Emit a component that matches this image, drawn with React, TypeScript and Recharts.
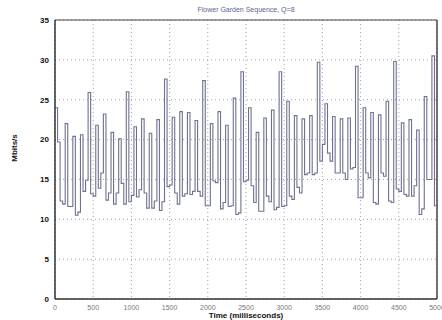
import { LineChart, Line, XAxis, YAxis, CartesianGrid, ReferenceLine } from 'recharts';

// bit rate per frame (30 frames/s)
const mbits = [
  24.0, 19.7, 12.3, 11.9,
  22.0, 11.6, 11.6,
  20.4, 10.5, 10.9,
  20.6, 13.5, 14.9,
  25.9, 13.2, 12.9,
  21.8, 13.9, 15.8,
  23.2, 12.4, 13.3,
  20.9, 11.9, 13.3,
  20.1, 14.5, 11.9,
  26.0, 12.2, 13.0,
  21.6, 12.8, 13.7,
  22.6, 13.3, 11.4,
  20.8, 11.4, 12.3,
  22.5, 11.1, 12.2,
  27.6, 14.1, 14.3,
  22.8, 13.3, 11.9,
  23.5, 12.9, 13.2,
  23.4, 13.1, 13.5,
  22.4, 13.5, 12.9,
  27.4, 11.7, 11.7,
  22.0, 14.8, 14.6,
  23.5, 11.3, 12.1,
  21.8, 11.6, 11.7,
  25.2, 10.6, 10.8,
  28.5, 14.7, 14.9,
  24.0, 14.2, 12.1,
  20.9, 11.0, 11.0,
  22.7, 12.9, 12.2,
  23.7, 11.2, 11.5,
  28.5, 11.6, 11.7,
  24.8, 12.9, 12.5,
  23.0, 14.0, 13.3,
  22.6, 15.6, 15.8,
  23.0, 15.6, 15.8,
  29.7, 17.3, 19.4,
  24.5, 18.3, 17.3,
  22.9, 15.8, 15.8,
  22.6, 15.8, 15.0,
  22.7, 16.3, 16.5,
  29.2, 12.7, 12.7,
  24.0, 15.8, 15.2,
  23.4, 12.1, 11.9,
  23.1, 15.8, 15.4,
  24.8, 12.3, 12.1,
  29.8, 13.8, 13.5,
  22.1, 13.1, 12.9,
  22.5, 12.9, 14.2,
  21.2, 10.6, 11.3,
  25.4, 15.0, 15.0,
  30.5, 11.7,
];

const xTicks = [0, 500, 1000, 1500, 2000, 2500, 3000, 3500, 4000, 4500, 5000];
const yTicks = [0, 5, 10, 15, 20, 25, 30, 35];

const FRAME_MS = 1000 / 30;

const data = [
  ...mbits.map((v, i) => ({ t: i * FRAME_MS, v })),
  { t: 5000, v: mbits[mbits.length - 1] },
];

const font = '"Liberation Sans", Arial, sans-serif';

export default function App() {
  return (
    <div style={{ position: 'absolute', left: 0, top: 0, width: 442, height: 320, background: '#fff', fontFamily: font }}>
      <div style={{ position: 'absolute', left: 0, width: 492, top: 6, textAlign: 'center', fontSize: 7, color: '#5b6790' }}>
        Flower Garden Sequence, Q=8
      </div>
      <div
        style={{
          position: 'absolute', left: 14, top: 148, fontSize: 8, fontWeight: 'bold',
          transform: 'translate(-50%, -50%) rotate(-90deg)', whiteSpace: 'nowrap', color: '#111',
        }}
      >
        Mbits/s
      </div>
      <div style={{ position: 'absolute', left: 0, width: 492, top: 311, textAlign: 'center', fontSize: 8, fontWeight: 'bold', color: '#111' }}>
        Time (milliseconds)
      </div>
      <LineChart width={442} height={320} data={data} margin={{ top: 20, right: 5, bottom: 0, left: 15 }}>
        <CartesianGrid stroke="#9aa0b8" strokeDasharray="1 3" />
        <XAxis
          dataKey="t"
          type="number"
          domain={[0, 5000]}
          ticks={xTicks}
          height={21}
          tickSize={0}
          tickMargin={6}
          stroke="#333"
          strokeWidth={1.5}
          tick={{ fontSize: 7, fill: '#777', fontFamily: font }}
          interval={0}
        />
        <YAxis
          type="number"
          domain={[0, 35]}
          ticks={yTicks}
          width={40}
          tickSize={0}
          tickMargin={6}
          stroke="#333"
          strokeWidth={1.5}
          tick={{ fontSize: 8, fill: '#111', fontWeight: 'bold', fontFamily: font }}
          interval={0}
        />
        <ReferenceLine y={35} stroke="#444" strokeWidth={1} />
        <ReferenceLine x={5000} stroke="#444" strokeWidth={1.5} />
        <Line
          type="stepAfter"
          dataKey="v"
          stroke="#6d7290"
          strokeWidth={1.1}
          dot={false}
          isAnimationActive={false}
        />
      </LineChart>
    </div>
  );
}
